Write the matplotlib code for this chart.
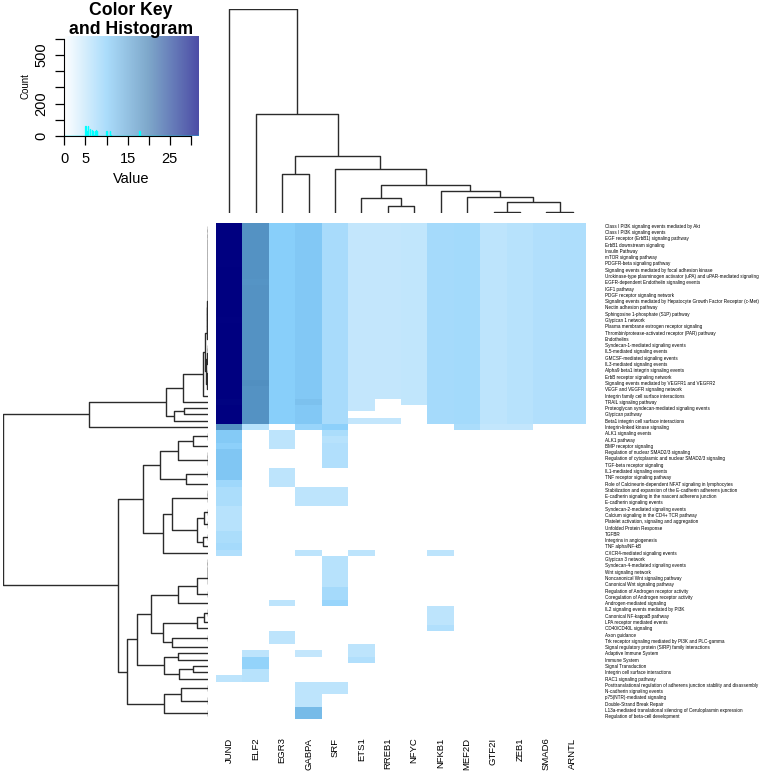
import numpy as np
import matplotlib
matplotlib.use("Agg")
import matplotlib.pyplot as plt
from matplotlib.colors import LinearSegmentedColormap

plt.rcParams['font.family'] = ['Liberation Sans', 'DejaVu Sans']

# ---------------- data ----------------
columns = ["JUND", "ELF2", "EGR3", "GABPA", "SRF", "ETS1", "RREB1", "NFYC",
           "NFKB1", "MEF2D", "GTF2I", "ZEB1", "SMAD6", "ARNTL"]

pathways = [
    "Class I PI3K signaling events mediated by Akt",
    "Class I PI3K signaling events",
    "EGF receptor (ErbB1) signaling pathway",
    "ErbB1 downstream signaling",
    "Insulin Pathway",
    "mTOR signaling pathway",
    "PDGFR-beta signaling pathway",
    "Signaling events mediated by focal adhesion kinase",
    "Urokinase-type plasminogen activator (uPA) and uPAR-mediated signaling",
    "EGFR-dependent Endothelin signaling events",
    "IGF1 pathway",
    "PDGF receptor signaling network",
    "Signaling events mediated by Hepatocyte Growth Factor Receptor (c-Met)",
    "Nectin adhesion pathway",
    "Sphingosine 1-phosphate (S1P) pathway",
    "Glypican 1 network",
    "Plasma membrane estrogen receptor signaling",
    "Thrombin/protease-activated receptor (PAR) pathway",
    "Endothelins",
    "Syndecan-1-mediated signaling events",
    "IL5-mediated signaling events",
    "GMCSF-mediated signaling events",
    "IL3-mediated signaling events",
    "Alpha9 beta1 integrin signaling events",
    "ErbB receptor signaling network",
    "Signaling events mediated by VEGFR1 and VEGFR2",
    "VEGF and VEGFR signaling network",
    "Integrin family cell surface interactions",
    "TRAIL signaling pathway",
    "Proteoglycan syndecan-mediated signaling events",
    "Glypican pathway",
    "Beta1 integrin cell surface interactions",
    "Integrin-linked kinase signaling",
    "ALK1 signaling events",
    "ALK1 pathway",
    "BMP receptor signaling",
    "Regulation of nuclear SMAD2/3 signaling",
    "Regulation of cytoplasmic and nuclear SMAD2/3 signaling",
    "TGF-beta receptor signaling",
    "IL1-mediated signaling events",
    "TNF receptor signaling pathway",
    "Role of Calcineurin-dependent NFAT signaling in lymphocytes",
    "Stabilization and expansion of the E-cadherin adherens junction",
    "E-cadherin signaling in the nascent adherens junction",
    "E-cadherin signaling events",
    "Syndecan-2-mediated signaling events",
    "Calcium signaling in the CD4+ TCR pathway",
    "Platelet activation, signaling and aggregation",
    "Unfolded Protein Response",
    "TGFBR",
    "Integrins in angiogenesis",
    "TNF alpha/NF-kB",
    "CXCR4-mediated signaling events",
    "Glypican 3 network",
    "Syndecan-4-mediated signaling events",
    "Wnt signaling network",
    "Noncanonical Wnt signaling pathway",
    "Canonical Wnt signaling pathway",
    "Regulation of Androgen receptor activity",
    "Coregulation of Androgen receptor activity",
    "Androgen-mediated signaling",
    "IL2 signaling events mediated by PI3K",
    "Canonical NF-kappaB pathway",
    "LPA receptor mediated events",
    "CD40/CD40L signaling",
    "Axon guidance",
    "Trk receptor signaling mediated by PI3K and PLC-gamma",
    "Signal regulatory protein (SIRP) family interactions",
    "Adaptive Immune System",
    "Immune System",
    "Signal Transduction",
    "Integrin cell surface interactions",
    "RAC1 signaling pathway",
    "Posttranslational regulation of adherens junction stability and disassembly",
    "N-cadherin signaling events",
    "p75(NTR)-mediated signaling",
    "Double-Strand Break Repair",
    "L13a-mediated translational silencing of Ceruloplasmin expression",
    "Regulation of beta-cell development",
]

# values per column, as (value, number of consecutive rows) runs, top row first
JUND_runs = [(31.9, 6), (31.7, 1), (31.9, 8), (31.7, 1), (31.9, 12), (31.6, 1), (31.9, 3),
             (17.9, 1), (10.5, 2), (9.5, 1), (11, 5), (8, 1), (7, 3), (6, 4), (7, 2),
             (7.5, 1), (6.5, 1), (0, 19), (5.5, 1), (0, 6)]
ELF2_runs = [(17.9, 9), (17.6, 1), (17.9, 15), (18.2, 1), (17.9, 6),
             (6, 1), (0, 35), (5.5, 1), (9, 2), (6, 2), (0, 6)]
EGR3_runs = [(9.9, 32), (0, 1), (5.5, 3), (0, 3), (5.5, 3), (0, 18), (5.5, 1),
             (0, 4), (5.5, 2), (0, 12)]
GABPA_runs = [(10.8, 28), (11.8, 1), (10.8, 3), (8.5, 1), (0, 9), (5.5, 3), (0, 7), (5.5, 1),
              (0, 15), (5, 1), (0, 4), (5.5, 4), (12.5, 2)]
SRF_runs = [(7.3, 32), (9.5, 1), (7, 1), (6, 1), (6.5, 4), (0, 3), (5.5, 3), (0, 8),
            (6, 5), (7.5, 2), (8.5, 1), (0, 12), (5.5, 2), (0, 4)]
ETS1_runs = [(5, 30), (0, 1), (5, 1), (0, 20), (5.5, 1), (0, 14), (5.5, 2), (6.5, 1),
             (0, 9)]
RREB1_runs = [(5, 28), (0, 3), (5, 1), (0, 47)]
NFYC_runs = [(5.2, 29), (0, 50)]
NFKB1_runs = [(7.6, 32), (0, 20), (5.5, 1), (0, 8), (5.5, 3), (6.5, 1), (0, 14)]
MEF2D_runs = [(7.7, 32), (7, 1), (0, 46)]
GTF2I_runs = [(5.6, 32), (5, 1), (0, 46)]
ZEB1_runs = [(6.1, 32), (5, 1), (0, 46)]
SMAD6_runs = [(6.5, 32), (0, 47)]
ARNTL_runs = [(6.8, 32), (0, 47)]

# dendrograms: [left, right, merge height]; leaves are column index / row number
col_tree = [0, [1, [[2, 3, 39], [4, [[5, [6, 7, 7.3], 15],
                                     [8, [9, [[10, 11, 1.6], [12, 13, 1.6], 11.3], 16], 22.6],
                                     28.3], 44.3], 57.3], 99], 204]


def chain(leaves, heights):
    node = leaves[0]
    for lf, h in zip(leaves[1:], heights):
        node = [node, lf, h]
    return node


# top cluster of rows
bulk_a = chain(list(range(1, 20)), [0.1, 0.1, 0.15, 0.15, 0.2, 0.2, 0.25, 0.3, 0.4,
                                    0.5, 0.6, 0.7, 0.8, 0.9, 1.0, 1.2, 1.4, 1.6])
bulk_b = [chain([20, 21, 22, 23], [0.5, 0.8, 1.0]), chain([24, 25, 26, 27], [0.6, 0.9, 1.3]), 2.2]
bulk27 = [bulk_a, bulk_b, 3.5]
top_sub = [[[bulk27, 28, 5.6], 29, 25], [[30, 31, 24], 32, 34], 42.3]
top_tree = [top_sub, 33, 119]

# bottom cluster of rows
grp_a = [[34, 35, 0.3], 36, 15.6]
grp_b = [[37, 38, 0.3], 39, 0.6]
grp_c = [[40, 41, 0.3], 42, 22.6]
grp_abc = [[grp_a, grp_b, 30.6], grp_c, 48.3]
grp_e = [[[46, 47, 0.3], [48, 49, 0.3], 4], [[50, 51, 0.3], 52, 5], 11]
grp_d = [[[[43, 44, 0.2], 45, 0.5], grp_e, 36.6], 53, 45]
upper_b = [grp_abc, grp_d, 65]

grp_f = [[chain([54, 55, 56, 57, 58], [0.2, 0.3, 0.4, 0.5]), [59, 60, 0.5], 11], 61, 30]
grp_g = [[[[62, 63, 0.4], 64, 4], 65, 11], [[66, 67, 0.4], 68, 36.6], 45]
grp_h = [[69, 70, 30], [[71, 72, 15], 73, 29], 44]
grp_i = [[[74, 75, 0.3], [76, 77, 0.3], 27.3], [78, 79, 0.3], 44]
lower_b = [[[grp_f, grp_g, 57.6], grp_h, 71.6], grp_i, 81.6]

row_tree = [top_tree, [upper_b, lower_b, 90], 205.6]

# ---------------- build matrix ----------------
def expand(runs):
    out = []
    for v, n in runs:
        out += [v] * n
    return out


col_values = [expand(JUND_runs), expand(ELF2_runs), expand(EGR3_runs),
              expand(GABPA_runs), expand(SRF_runs), expand(ETS1_runs), expand(RREB1_runs),
              expand(NFYC_runs), expand(NFKB1_runs), expand(MEF2D_runs), expand(GTF2I_runs),
              expand(ZEB1_runs), expand(SMAD6_runs), expand(ARNTL_runs)]
M = np.array(col_values, dtype=float).T  # rows x columns
nrow, ncol = M.shape

vmax = 31.9
cmap = LinearSegmentedColormap.from_list(
    "key", [(0, "#FFFFFF"), (10 / vmax, "#87CEFA"), (20 / vmax, "#4682B4"), (1.0, "#000080")])

W, H = 768, 773
fig = plt.figure(figsize=(W / 100, H / 100), dpi=100)


def frac(x0, y0, x1, y1):
    return [x0 / W, 1 - y1 / H, (x1 - x0) / W, (y1 - y0) / H]


# heatmap
ax_h = fig.add_axes(frac(216, 222.5, 586, 719.5))
ax_h.pcolormesh(np.arange(ncol + 1), np.arange(nrow + 1) + 0.5, M, cmap=cmap, vmin=0, vmax=vmax,
                shading="flat", edgecolors="none")
ax_h.set_xlim(0, ncol)
ax_h.set_ylim(nrow + 0.5, 0.5)
for s in ax_h.spines.values():
    s.set_visible(False)
ax_h.set_xticks(np.arange(ncol) + 0.5)
ax_h.set_xticklabels(columns, rotation=90, fontsize=6.8, va="top")
ax_h.tick_params(axis="x", length=0, pad=13)
ax_h.yaxis.tick_right()
ax_h.set_yticks(np.arange(1, nrow + 1))
ax_h.set_yticklabels(pathways, fontsize=3.3)
ax_h.tick_params(axis="y", length=0, pad=13.5)


# dendrogram drawing
def draw(ax, node, pos, horizontal):
    if not isinstance(node, list):
        return pos[node], 0.0
    l, r, h = node
    pl, hl = draw(ax, l, pos, horizontal)
    pr, hr = draw(ax, r, pos, horizontal)
    xs = [pl, pl, pr, pr]
    ys = [hl, h, h, hr]
    if horizontal:
        ax.plot(ys, xs, color="#2b2b2b", lw=1.0, solid_capstyle="butt")
    else:
        ax.plot(xs, ys, color="#2b2b2b", lw=1.0, solid_capstyle="butt")
    return (pl + pr) / 2, h


ax_c = fig.add_axes(frac(216, 9.3, 586, 213.3))
draw(ax_c, col_tree, {i: i + 0.5 for i in range(ncol)}, False)
ax_c.set_xlim(0, ncol)
ax_c.set_ylim(0, 204)
ax_c.axis("off")

ax_r = fig.add_axes(frac(2.7, 222.5, 208.3, 719.5))
draw(ax_r, row_tree, {i: float(i) for i in range(1, nrow + 1)}, True)
ax_r.set_ylim(nrow + 0.5, 0.5)
ax_r.set_xlim(205.6, 0)
ax_r.axis("off")

# color key with histogram
ax_k = fig.add_axes(frac(64.3, 35.7, 199, 136))
grad = np.linspace(0, vmax, 256).reshape(1, -1)
ax_k.imshow(grad, extent=[0, vmax, 0, 620], aspect="auto", cmap=cmap, vmin=0, vmax=vmax,
            alpha=0.7, origin="lower")
vals = M[M > 0]
bins = np.arange(0, 32.0, 0.1)
cnt, edges = np.histogram(vals, bins=bins)
ax_k.step(edges[:-1], cnt, where="post", color="cyan", lw=0.9)
ax_k.axhline(0, color="cyan", lw=0.9)
ax_k.set_xlim(0, vmax)
ax_k.set_ylim(0, 620)
ax_k.spines["top"].set_visible(False)
ax_k.spines["right"].set_visible(False)
ax_k.spines["left"].set_bounds(0, 600)
ax_k.spines["bottom"].set_bounds(0, 30)
ax_k.set_xticks([0, 5, 10, 15, 20, 25, 30])
ax_k.set_xticklabels(["0", "5", "", "15", "", "25", ""], fontsize=10.5)
ax_k.set_yticks([0, 100, 200, 300, 400, 500, 600])
ax_k.set_yticklabels(["0", "", "200", "", "", "500", ""], fontsize=10.5, rotation=90, va="center")
ax_k.tick_params(axis="both", length=6.5, width=0.9, pad=5)
ax_k.set_xlabel("Value", fontsize=10.5, labelpad=4)
ax_k.set_ylabel("Count", fontsize=7, labelpad=3)

fig.text(131 / W, 1 - 10.5 / H, "Color Key", ha="center", va="center", fontsize=12.7, fontweight="bold")
fig.text(131 / W, 1 - 29.5 / H, "and Histogram", ha="center", va="center", fontsize=12.7,
         fontweight="bold")

fig.savefig("out.png", dpi=100)
